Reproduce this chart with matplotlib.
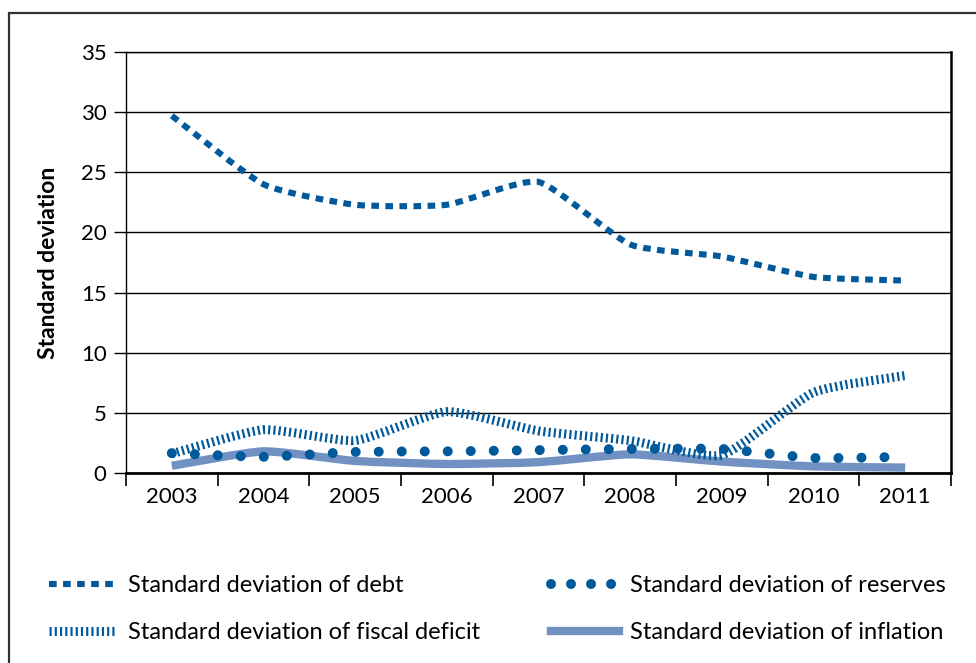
import matplotlib
matplotlib.use("Agg")
import matplotlib.pyplot as plt
import numpy as np
from matplotlib.path import Path
from matplotlib.patches import PathPatch, Rectangle
from matplotlib.lines import Line2D

plt.rcParams['font.family'] = ['Lato', 'DejaVu Sans']

# datos
years = ['2003', '2004', '2005', '2006', '2007', '2008', '2009', '2010', '2011']
debt = [29.7, 24.0, 22.3, 22.3, 24.2, 19.0, 18.0, 16.3, 16.0]
fiscal = [1.6, 3.6, 2.7, 5.1, 3.5, 2.7, 1.5, 6.7, 8.1]
reserves = [1.65, 1.35, 1.75, 1.8, 1.9, 2.0, 2.0, 1.25, 1.35]
inflation = [0.6, 1.8, 1.0, 0.75, 0.9, 1.55, 0.95, 0.55, 0.45]

dark = '#00599b'
light = '#7191c3'


def smooth_path(xs, ys, k=11.0):
    # curva suavizada (Bezier cubica con poca tension)
    p = np.column_stack([xs, ys]).astype(float)
    ext = np.vstack([p[0], p, p[-1]])
    verts = [p[0]]
    codes = [Path.MOVETO]
    for i in range(len(p) - 1):
        p0, p1, p2, p3 = ext[i], ext[i + 1], ext[i + 2], ext[i + 3]
        c1 = p1 + (p2 - p0) / k
        c2 = p2 - (p3 - p1) / k
        verts += [c1, c2, p2]
        codes += [Path.CURVE4] * 3
    return Path(verts, codes)


fig = plt.figure(figsize=(9.76, 6.63), dpi=100)
ax = fig.add_axes([126 / 976, 1 - 473 / 663, (951 - 126) / 976, (473 - 52) / 663])

x = np.arange(len(years))

st_debt = dict(color=dark, linewidth=4.4, linestyle=(0, (1.25, 1.05)))
st_fiscal = dict(color=dark, linewidth=6.5, linestyle=(0, (0.24, 0.34)))
st_res = dict(color=dark, linewidth=7.2, linestyle=(0, (0.001, 2.3)))
st_inf = dict(color=light, linewidth=6.0, linestyle='-')

for vals, st, cap in [(inflation, st_inf, 'butt'), (reserves, st_res, 'round'),
                      (fiscal, st_fiscal, 'butt'), (debt, st_debt, 'butt')]:
    ax.add_patch(PathPatch(smooth_path(x, vals), fill=False, edgecolor=st['color'],
                           linewidth=st['linewidth'], linestyle=st['linestyle'], capstyle=cap))

ax.set_xlim(-0.5, len(years) - 0.5)
ax.set_ylim(0, 35)
ax.set_yticks(np.arange(0, 36, 5))
ax.yaxis.grid(True, color='black', linewidth=1.0)
ax.set_axisbelow(True)
ax.set_xticks(x)
ax.set_xticklabels(years)
ax.set_xticks(np.arange(-0.5, len(years), 1), minor=True)
ax.tick_params(axis='x', which='major', length=0, labelsize=16, pad=10)
ax.tick_params(axis='x', which='minor', length=9, width=1.2, direction='out')
ax.tick_params(axis='y', length=9, width=1.0, labelsize=16, pad=5)
for s in ['left', 'top']:
    ax.spines[s].set_linewidth(1.0)
ax.spines['right'].set_linewidth(1.8)
ax.spines['bottom'].set_linewidth(2.0)
ax.set_ylabel('Standard deviation', fontsize=16.5, fontweight='bold', labelpad=16)

# leyenda
handles = [
    Line2D([], [], **st_debt),
    Line2D([], [], **st_fiscal),
    Line2D([], [], color=dark, linewidth=7.2, linestyle=(0, (0.001, 2.0)), dash_capstyle='round'),
    Line2D([], [], **st_inf),
]
labels = ['Standard deviation of debt', 'Standard deviation of fiscal deficit',
          'Standard deviation of reserves', 'Standard deviation of inflation']
fig.legend(handles, labels, ncol=2, loc='upper left', bbox_to_anchor=(28 / 976, 1 - 554 / 663),
           frameon=False, fontsize=17, handlelength=2.85, handletextpad=0.5,
           columnspacing=3.0, labelspacing=1.1, borderpad=0.4)

# marco exterior
fig.add_artist(Rectangle((9 / 976, -0.1), 1.2, 1.1 - 13 / 663, transform=fig.transFigure,
                         fill=False, edgecolor='#333333', linewidth=1.6))

fig.savefig('out.png', dpi=100)
